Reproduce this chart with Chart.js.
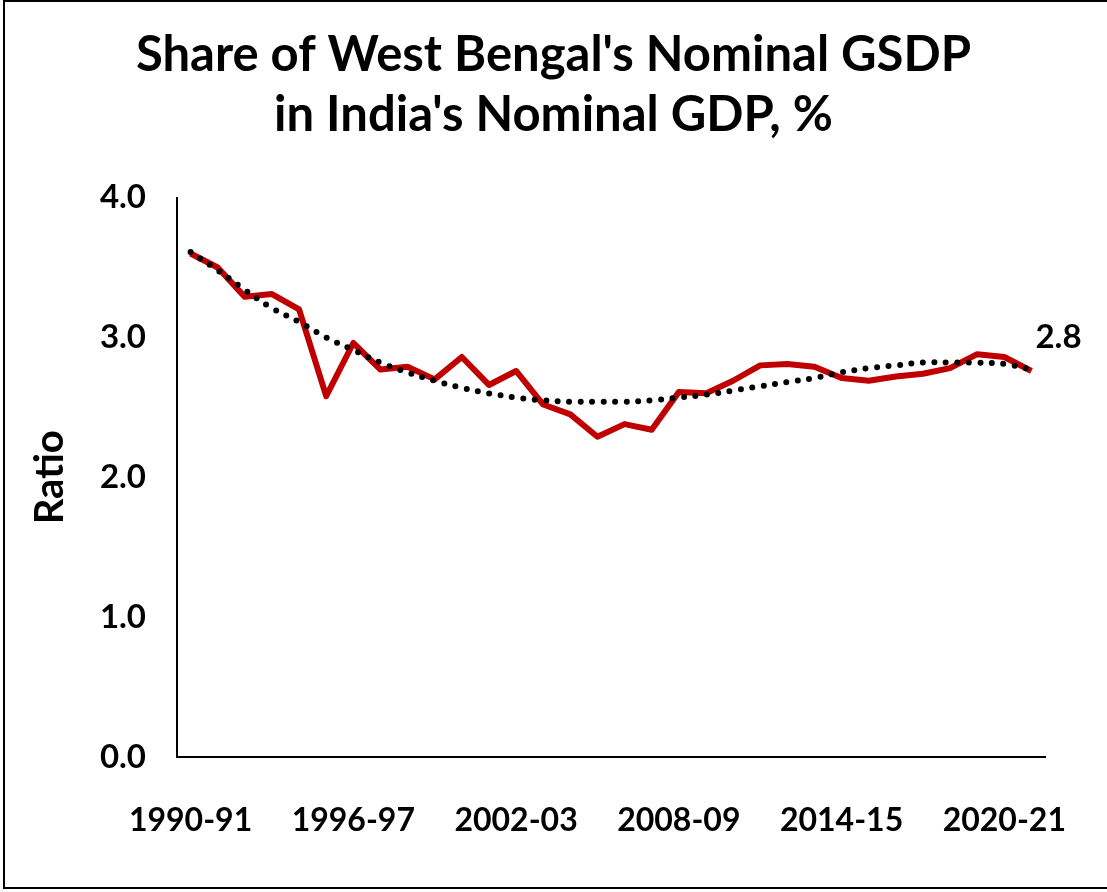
<!DOCTYPE html>
<html>
<head>
<meta charset="utf-8">
<script src="https://cdn.jsdelivr.net/npm/chart.js@4.4.0/dist/chart.umd.min.js"></script>
<style>
  body { margin: 0; background: #fff; }
  #wrap { position: absolute; left: 0; top: 0; width: 1107px; height: 892px; }
  #frame { position: absolute; left: 3px; top: 0; width: 1110px; height: 889px; border: 2px solid #000; box-sizing: border-box; pointer-events: none; }
</style>
</head>
<body>
<div id="wrap">
  <canvas id="chart" width="1107" height="892"></canvas>
  <div id="frame"></div>
</div>
<script>
// fiscal years 1990-91 .. 2021-22
var years = [];
for (var y = 1990; y <= 2021; y++) {
    years.push(y + "-" + String((y + 1) % 100).padStart(2, "0"));
}

// share of West Bengal's nominal GSDP in India's nominal GDP, %
var shareValues = [3.60, 3.50, 3.29, 3.31, 3.20, 2.58, 2.96, 2.77, 2.79, 2.70,
                   2.86, 2.66, 2.76, 2.52, 2.45, 2.29, 2.38, 2.34, 2.61, 2.60,
                   2.69, 2.80, 2.81, 2.79, 2.71, 2.69, 2.72, 2.74, 2.78, 2.88,
                   2.86, 2.76];

// dotted trend line
var trendValues = [3.61, 3.48, 3.34, 3.21, 3.11, 3.00, 2.91, 2.82, 2.75, 2.69,
                   2.64, 2.60, 2.57, 2.55, 2.54, 2.54, 2.54, 2.55, 2.57, 2.59,
                   2.62, 2.65, 2.68, 2.71, 2.75, 2.78, 2.80, 2.82, 2.82, 2.82,
                   2.81, 2.77];

var yTicks = [0, 1, 2, 3, 4];
var lastLabel = "2.8";

var FONT = "Lato";

// centre the title on the whole canvas, not just inside the padding
var centerTitle = {
    id: "centerTitle",
    afterLayout: function (chart) {
        var t = chart.titleBlock;
        if (t) { t.left = 0; t.right = chart.width; t.width = chart.width; }
    }
};

// writes the value label to the right of the last point
var endLabel = {
    id: "endLabel",
    afterDatasetsDraw: function (chart) {
        var meta = chart.getDatasetMeta(1);
        var pt = meta.data[meta.data.length - 1];
        var ctx = chart.ctx;
        ctx.save();
        ctx.font = "bold 33px " + FONT;
        ctx.fillStyle = "#000";
        ctx.textAlign = "left";
        ctx.textBaseline = "middle";
        ctx.fillText(lastLabel, pt.x + 4, pt.y - 34);
        ctx.restore();
    }
};

var ctx1 = document.getElementById("chart").getContext("2d");
var myChart = new Chart(ctx1, {
    type: "line",
    data: {
        labels: years,
        datasets: [{
            label: "Trend",
            data: trendValues,
            borderColor: "#000",
            borderWidth: 6,
            borderDash: [0, 11.5],
            borderCapStyle: "round",
            pointRadius: 0,
            fill: false,
            tension: 0.4,
            order: 0
        }, {
            label: "Share",
            data: shareValues,
            borderColor: "#C00000",
            borderWidth: 6,
            borderJoinStyle: "round",
            pointRadius: 0,
            fill: false,
            tension: 0,
            order: 1
        }]
    },
    options: {
        responsive: false,
        animation: false,
        layout: { padding: { left: 20, right: 62, top: 0, bottom: 0 } },
        plugins: {
            legend: { display: false },
            tooltip: { enabled: false },
            title: {
                display: true,
                text: ["Share of West Bengal's Nominal GSDP", "in India's Nominal GDP, %"],
                color: "#000",
                font: { family: FONT, size: 49, weight: "bold", lineHeight: 1.23 },
                padding: { top: 25, bottom: 52 }
            }
        },
        scales: {
            x: {
                offset: true,
                grid: { display: false, drawTicks: false },
                border: { display: true, color: "#000", width: 2 },
                afterFit: function (s) { s.height = 135; },
                ticks: {
                    autoSkip: false,
                    maxRotation: 0,
                    padding: 44,
                    color: "#000",
                    font: { family: FONT, size: 32, weight: "bold" },
                    callback: function (v, i) { return i % 6 === 0 ? years[i] : ""; }
                }
            },
            y: {
                min: 0,
                max: 4,
                afterBuildTicks: function (s) { s.ticks = yTicks.map(function (v) { return { value: v }; }); },
                afterFit: function (s) { s.width = 157; },
                grid: { display: false, drawTicks: false },
                border: { display: true, color: "#000", width: 2 },
                title: {
                    display: true,
                    text: "Ratio",
                    color: "#000",
                    font: { family: FONT, size: 40, weight: "bold" },
                    padding: { top: 6, bottom: 12 }
                },
                ticks: {
                    padding: 31,
                    color: "#000",
                    font: { family: FONT, size: 33, weight: "bold" },
                    callback: function (v) { return Number(v).toFixed(1); }
                }
            }
        }
    },
    plugins: [centerTitle, endLabel]
});
</script>
</body>
</html>
